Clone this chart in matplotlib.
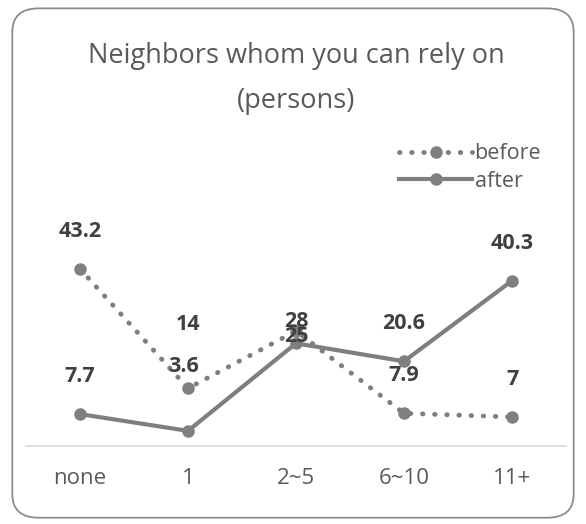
import matplotlib.pyplot as plt
from matplotlib.patches import FancyBboxPatch

# chart data
categories = ['none', '1', '2~5', '6~10', '11+']
before = [43.2, 14, 28, 7.9, 7]
after = [7.7, 3.6, 25, 20.6, 40.3]

# label offsets in points (dx, dy)
before_off = [(0, 27), (0, 46), (0, 7), (0, 27), (0, 27)]
after_off = [(0, 27), (-3, 46), (0, 5), (0, 27), (0, 27)]

plt.rcParams['font.family'] = ['Open Sans', 'DejaVu Sans']
line_col = '#7f7f7f'
lab_col = '#404040'

fig = plt.figure(figsize=(5.86, 5.24), dpi=100)
ax = fig.add_axes([0.0444, 0.1496, 0.9215, 0.3904])

x = range(len(categories))
ax.plot(x, before, color=line_col, lw=3.5, linestyle=(0, (0.1, 2.4)),
        dash_capstyle='round', marker='o', ms=8, label='before')
ax.plot(x, after, color=line_col, lw=3, marker='o', ms=8, label='after')

for i in x:
    ax.annotate(f'{before[i]:g}', (i, before[i]), xytext=before_off[i],
                textcoords='offset points', ha='center', va='center',
                fontsize=15.5, fontweight='bold', color=lab_col)
    ax.annotate(f'{after[i]:g}', (i, after[i]), xytext=after_off[i],
                textcoords='offset points', ha='center', va='center',
                fontsize=15.5, fontweight='bold', color=lab_col)

ax.set_xlim(-0.5, 4.5)
ax.set_ylim(0, 50)
ax.set_xticks(list(x))
ax.set_xticklabels(categories, fontsize=16, color='#595959')
ax.tick_params(axis='x', length=0, pad=16)
ax.set_yticks([])
for s in ['top', 'left', 'right']:
    ax.spines[s].set_visible(False)
ax.spines['bottom'].set_color('#d9d9d9')
ax.spines['bottom'].set_linewidth(1.2)
ax.patch.set_alpha(0)

leg = ax.legend(loc='upper right', bbox_to_anchor=(0.97, 1.52), frameon=False,
                fontsize=15.5, handlelength=3.4, handletextpad=0.1,
                labelspacing=0.3, borderaxespad=0)
for t in leg.get_texts():
    t.set_color('#595959')

fig.text(0.505, 0.894, 'Neighbors whom you can rely on', ha='center',
         va='center', fontsize=19.5, color='#595959')
fig.text(0.505, 0.808, '(persons)', ha='center', va='center',
         fontsize=19.5, color='#595959')

border = FancyBboxPatch((0.021, 0.012), 0.958, 0.972,
                        boxstyle='round,pad=0,rounding_size=0.045',
                        transform=fig.transFigure, fill=False,
                        edgecolor='#8c8c8c', lw=1.3)
fig.patches.append(border)

fig.savefig('out.png', dpi=100)
